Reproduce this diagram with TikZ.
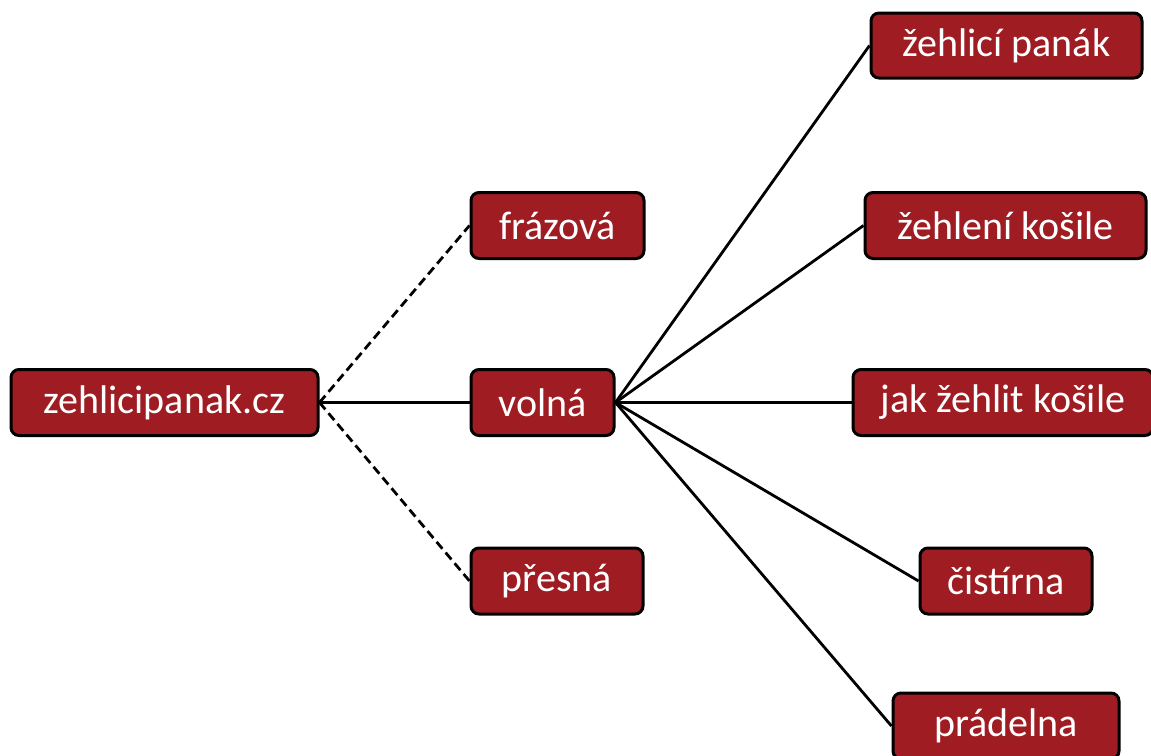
\documentclass[tikz,border=0pt]{standalone}
\usepackage{fontspec}
\setmainfont{Carlito}
\definecolor{boxred}{RGB}{158,28,34}
\begin{document}
\begin{tikzpicture}[x=1pt,y=-1pt,
  box/.style={draw=black, line width=3pt, fill=boxred, rounded corners=8pt,
    text=white, font=\fontsize{40}{46}\selectfont, inner sep=0pt,
    minimum height=66pt, anchor=center},
  link/.style={line width=2.8pt, draw=black},
  dlink/.style={link, dash pattern=on 9pt off 5pt}]
\useasboundingbox (0,0) rectangle (1151,755);
\node[box, minimum width=307pt] (root) at (164.5,402.5) {zehlicipanak.cz};
\node[box, minimum width=173pt] (fraz) at (557.5,225.5) {frázová};
\node[box, minimum width=143pt] (voln) at (542.5,402.5) {volná};
\node[box, minimum width=172pt] (pres) at (557,581) {přesná};
\node[box, minimum width=271pt, minimum height=65pt] (k1) at (1006.5,45.5) {žehlicí panák};
\node[box, minimum width=281pt] (k2) at (1005.5,225.5) {žehlení košile};
\node[box, minimum width=300pt] (k3) at (1003,402.5) {jak žehlit košile};
\node[box, minimum width=172pt] (k4) at (1006,581) {čistírna};
\node[box, minimum width=226pt] (k5) at (1006,726) {prádelna};
\draw[dlink] (root.east) -- (fraz.west);
\draw[link] (root.east) -- (voln.west);
\draw[dlink] (root.east) -- (pres.west);
\foreach \k in {k1,k2,k3,k4,k5}
  \draw[link] (voln.east) -- (\k.west);
\end{tikzpicture}
\end{document}
